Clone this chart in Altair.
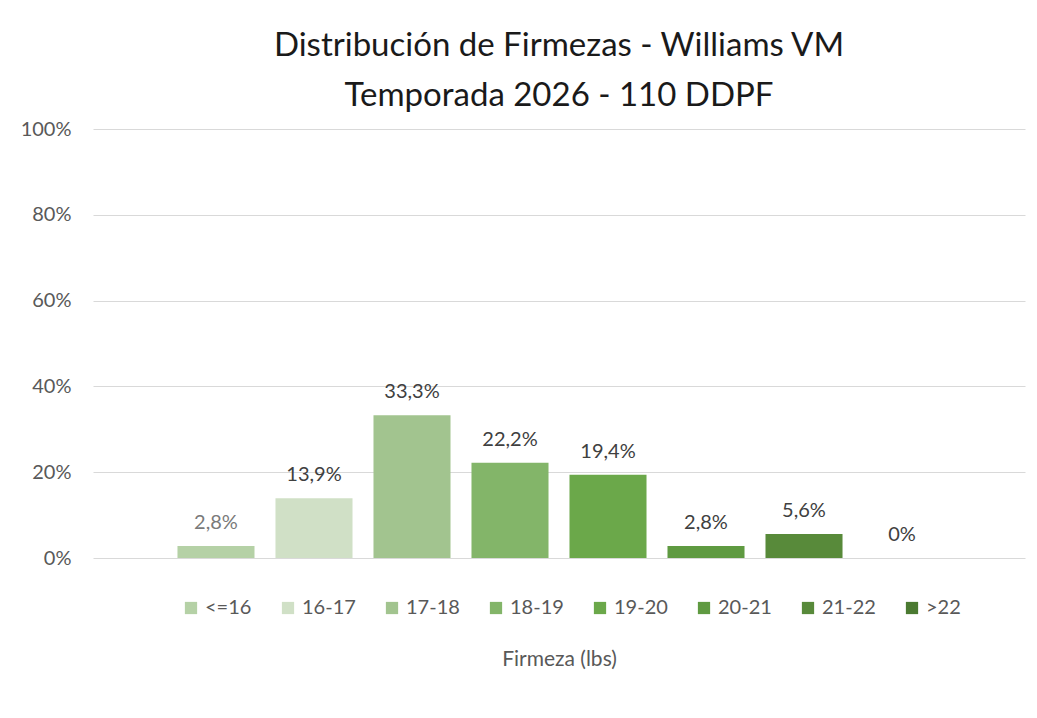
import altair as alt
import pandas as pd

categories = ["<=16", "16-17", "17-18", "18-19", "19-20", "20-21", "21-22", ">22"]
values = [0.028, 0.139, 0.333, 0.222, 0.194, 0.028, 0.056, 0.0]
colors = ["#b5d1a6", "#d0e0c6", "#a2c48f", "#83b569", "#6ba84a", "#5f9a41", "#588a3a", "#4b7a31"]
label_colors = ["#7a7a7a", "#404040", "#404040", "#404040", "#404040", "#404040", "#404040", "#404040"]
title_lines = ["Distribución de Firmezas - Williams VM", "Temporada  2026 - 110 DDPF"]


def fmt(v):
    if v == 0:
        return "0%"
    return f"{v*100:.1f}".replace(".", ",") + "%"


df = pd.DataFrame({
    "cat": categories,
    "val": values,
    "lab": [fmt(v) for v in values],
    "lc": label_colors,
})

FONT = "Lato"

xenc = alt.X(
    "cat:N",
    sort=categories,
    scale=alt.Scale(paddingInner=0.214, paddingOuter=0.862),
    axis=alt.Axis(labels=False, ticks=False, domain=False, grid=False,
                  title="Firmeza (lbs)", titlePadding=90, titleFont=FONT,
                  titleFontSize=21, titleFontWeight="normal", titleColor="#595959"),
)

bars = alt.Chart(df).mark_bar().encode(
    x=xenc,
    y=alt.Y("val:Q", scale=alt.Scale(domain=[0, 1], nice=False),
            axis=alt.Axis(values=[0, 0.2, 0.4, 0.6, 0.8, 1.0], format=".0%",
                          title=None, domain=False, ticks=False, labelPadding=22,
                          labelFont=FONT, labelFontSize=20, labelColor="#595959",
                          gridColor="#d9d9d9", gridWidth=1)),
    color=alt.Color("cat:N", sort=categories,
                    scale=alt.Scale(domain=categories, range=colors),
                    legend=alt.Legend(orient="none", direction="horizontal", title=None,
                                      legendX=88, legendY=469, columns=8,
                                      symbolType="square", symbolSize=150, symbolStrokeWidth=0,
                                      labelFont=FONT, labelFontSize=20, labelColor="#595959",
                                      columnPadding=26, labelOffset=4, padding=0)),
)

texts = alt.Chart(df).mark_text(baseline="bottom", dy=-13, font=FONT, fontSize=20).encode(
    x=alt.X("cat:N", sort=categories),
    y=alt.Y("val:Q"),
    text="lab:N",
    color=alt.Color("lc:N", scale=None, legend=None),
)

chart = alt.layer(bars, texts).properties(
    width=932,
    height=429,
    title=alt.TitleParams(text=title_lines, font=FONT, fontSize=33, fontWeight="normal",
                          color="#1a1a1a", anchor="middle", lineHeight=50, offset=6),
    autosize=alt.AutoSizeParams(type="none"),
    padding={"left": 85, "top": 121, "right": 4, "bottom": 140},
).configure_view(stroke=None)

chart.save("out.html", embed_options={"renderer": "svg", "actions": False})
